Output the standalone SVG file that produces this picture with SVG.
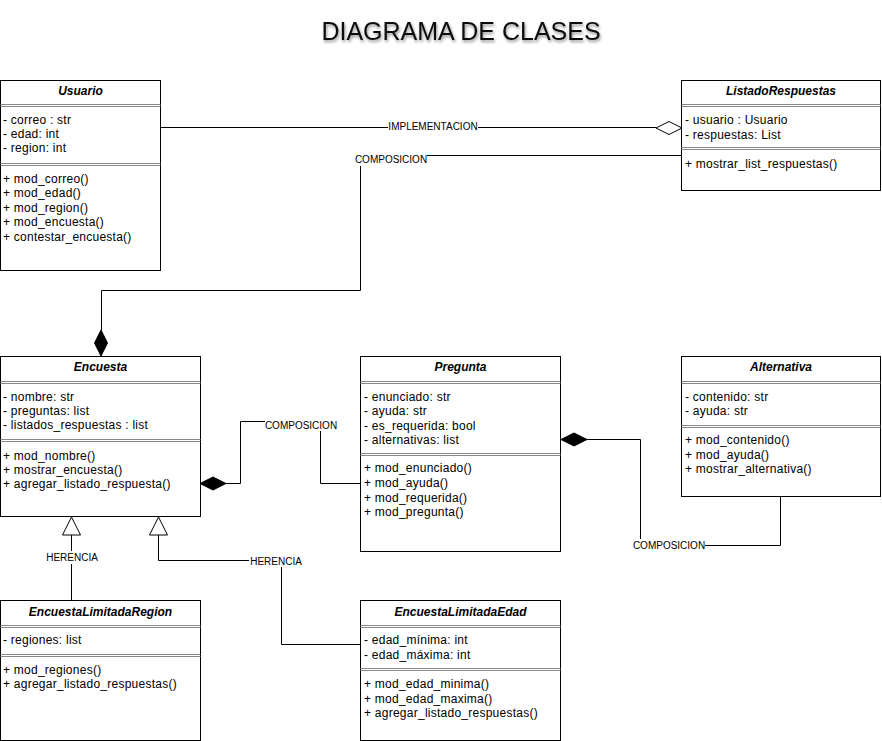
<svg xmlns="http://www.w3.org/2000/svg" width="882" height="741" viewBox="0 0 882 741">
<defs>
<style>
.box{fill:#fff;stroke:#000;stroke-width:1}
.sep{stroke:#888;stroke-width:1;fill:none}
.t{font-family:"Liberation Sans",Arial,sans-serif;font-size:12px;letter-spacing:0.25px;fill:#000}
.h{font-family:"Liberation Sans",Arial,sans-serif;font-size:12px;font-weight:bold;font-style:italic;fill:#000;text-anchor:middle}
.c{stroke:#000;stroke-width:1;fill:none}
.lbl{font-family:"Liberation Sans",Arial,sans-serif;font-size:10px;fill:#000;text-anchor:middle}
.lb{fill:#fff}
</style>
<filter id="sh" x="-10%" y="-30%" width="120%" height="180%">
<feDropShadow dx="1" dy="2" stdDeviation="1.5" flood-color="#000" flood-opacity="0.45"/>
</filter>
</defs>
<rect width="882" height="741" fill="#fff"/>
<text x="461" y="40" font-family="Liberation Sans,Arial,sans-serif" font-size="25" text-anchor="middle" fill="#111" filter="url(#sh)">DIAGRAMA DE CLASES</text>

<g id="connectors">
<!-- Usuario - ListadoRespuestas -->
<path class="c" d="M160.5,127.5 H656"/>
<path d="M656,128 L669,121.5 L682,128 L669,134.5 Z" fill="#fff" stroke="#000"/>
<rect class="lb" x="388" y="120" width="90" height="12"/>
<text class="lbl" x="433" y="130">IMPLEMENTACION</text>
<!-- ListadoRespuestas - Encuesta -->
<path class="c" d="M682,155.5 H360.5 V290.5 H101.5 V330"/>
<path d="M101,330 L107.5,343 L101,356 L94.5,343 Z" fill="#000" stroke="#000"/>
<rect class="lb" x="355" y="152" width="72" height="14"/>
<text class="lbl" x="391" y="163">COMPOSICION</text>
<!-- Pregunta - Encuesta -->
<path class="c" d="M361,483.5 H320.5 V421.5 H240.5 V483.5 H226"/>
<path d="M200,483.5 L213,477 L226,483.5 L213,490 Z" fill="#000" stroke="#000"/>
<rect class="lb" x="265" y="418" width="72" height="13"/>
<text class="lbl" x="301" y="429">COMPOSICION</text>
<!-- Alternativa - Pregunta -->
<path class="c" d="M587,439.5 H640.5 V545.5 H780.5 V496"/>
<path d="M561,439.5 L574,433 L587,439.5 L574,446 Z" fill="#000" stroke="#000"/>
<rect class="lb" x="633" y="539" width="72" height="13"/>
<text class="lbl" x="669" y="549">COMPOSICION</text>
<!-- EncuestaLimitadaRegion - Encuesta -->
<path class="c" d="M71.5,600 V535"/>
<path d="M71.5,517 L80.5,535 L62.5,535 Z" fill="#fff" stroke="#000"/>
<rect class="lb" x="45" y="551" width="54" height="13"/>
<text class="lbl" x="72" y="561">HERENCIA</text>
<!-- EncuestaLimitadaEdad - Encuesta -->
<path class="c" d="M361,644.5 H281.5 V560.5 H158.5 V535"/>
<path d="M158.5,517 L167.5,535 L149.5,535 Z" fill="#fff" stroke="#000"/>
<rect class="lb" x="249" y="555" width="54" height="12"/>
<text class="lbl" x="276" y="565">HERENCIA</text>
</g>

<g id="Usuario">
<rect class="box" x="0.5" y="80.5" width="160" height="190"/>
<text class="h" x="80.5" y="95">Usuario</text>
<path class="sep" d="M0.5,104.5 H160.5 M0.5,106.5 H160.5"/>
<text class="t" x="3" y="124">- correo : str</text>
<text class="t" x="3" y="138">- edad: int</text>
<text class="t" x="3" y="152">- region: int</text>
<path class="sep" d="M0.5,163.5 H160.5 M0.5,165.5 H160.5"/>
<text class="t" x="3" y="182.5">+ mod_correo()</text>
<text class="t" x="3" y="197">+ mod_edad()</text>
<text class="t" x="3" y="211.5">+ mod_region()</text>
<text class="t" x="3" y="226">+ mod_encuesta()</text>
<text class="t" x="3" y="240.5">+ contestar_encuesta()</text>
</g>

<g id="ListadoRespuestas">
<rect class="box" x="681.5" y="80.5" width="199" height="110"/>
<text class="h" x="781" y="95">ListadoRespuestas</text>
<path class="sep" d="M681.5,104.5 H880.5 M681.5,106.5 H880.5"/>
<text class="t" x="685" y="124">- usuario : Usuario</text>
<text class="t" x="685" y="139">- respuestas: List</text>
<path class="sep" d="M681.5,147.5 H880.5 M681.5,149.5 H880.5"/>
<text class="t" x="685" y="168">+ mostrar_list_respuestas()</text>
</g>

<g id="Encuesta">
<rect class="box" x="0.5" y="356.5" width="200" height="160"/>
<text class="h" x="100.5" y="371">Encuesta</text>
<path class="sep" d="M0.5,381.5 H200.5 M0.5,383.5 H200.5"/>
<text class="t" x="3" y="401">- nombre: str</text>
<text class="t" x="3" y="415">- preguntas: list</text>
<text class="t" x="3" y="429">- listados_respuestas : list</text>
<path class="sep" d="M0.5,439.5 H200.5 M0.5,441.5 H200.5"/>
<text class="t" x="3" y="460">+ mod_nombre()</text>
<text class="t" x="3" y="474">+ mostrar_encuesta()</text>
<text class="t" x="3" y="488">+ agregar_listado_respuesta()</text>
</g>

<g id="Pregunta">
<rect class="box" x="360.5" y="356.5" width="200" height="195"/>
<text class="h" x="460.5" y="371">Pregunta</text>
<path class="sep" d="M360.5,381.5 H560.5 M360.5,383.5 H560.5"/>
<text class="t" x="364" y="401">- enunciado: str</text>
<text class="t" x="364" y="415">- ayuda: str</text>
<text class="t" x="364" y="430">- es_requerida: bool</text>
<text class="t" x="364" y="444">- alternativas: list</text>
<path class="sep" d="M360.5,453.5 H560.5 M360.5,455.5 H560.5"/>
<text class="t" x="364" y="472">+ mod_enunciado()</text>
<text class="t" x="364" y="487">+ mod_ayuda()</text>
<text class="t" x="364" y="501.5">+ mod_requerida()</text>
<text class="t" x="364" y="516">+ mod_pregunta()</text>
</g>

<g id="Alternativa">
<rect class="box" x="681.5" y="356.5" width="199" height="140"/>
<text class="h" x="781" y="371">Alternativa</text>
<path class="sep" d="M681.5,381.5 H880.5 M681.5,383.5 H880.5"/>
<text class="t" x="685" y="401">- contenido: str</text>
<text class="t" x="685" y="415">- ayuda: str</text>
<path class="sep" d="M681.5,425.5 H880.5 M681.5,427.5 H880.5"/>
<text class="t" x="685" y="444">+ mod_contenido()</text>
<text class="t" x="685" y="459">+ mod_ayuda()</text>
<text class="t" x="685" y="473">+ mostrar_alternativa()</text>
</g>

<g id="EncuestaLimitadaRegion">
<rect class="box" x="0.5" y="600.5" width="200" height="140"/>
<text class="h" x="100.5" y="616">EncuestaLimitadaRegion</text>
<path class="sep" d="M0.5,625.5 H200.5 M0.5,627.5 H200.5"/>
<text class="t" x="3" y="644">- regiones: list</text>
<path class="sep" d="M0.5,654.5 H200.5 M0.5,656.5 H200.5"/>
<text class="t" x="3" y="674">+ mod_regiones()</text>
<text class="t" x="3" y="688">+ agregar_listado_respuestas()</text>
</g>

<g id="EncuestaLimitadaEdad">
<rect class="box" x="360.5" y="600.5" width="200" height="140"/>
<text class="h" x="460.5" y="616">EncuestaLimitadaEdad</text>
<path class="sep" d="M360.5,625.5 H560.5 M360.5,627.5 H560.5"/>
<text class="t" x="364" y="644">- edad_mínima: int</text>
<text class="t" x="364" y="659">- edad_máxima: int</text>
<path class="sep" d="M360.5,668.5 H560.5 M360.5,670.5 H560.5"/>
<text class="t" x="364" y="688">+ mod_edad_minima()</text>
<text class="t" x="364" y="703">+ mod_edad_maxima()</text>
<text class="t" x="364" y="717">+ agregar_listado_respuestas()</text>
</g>
</svg>
